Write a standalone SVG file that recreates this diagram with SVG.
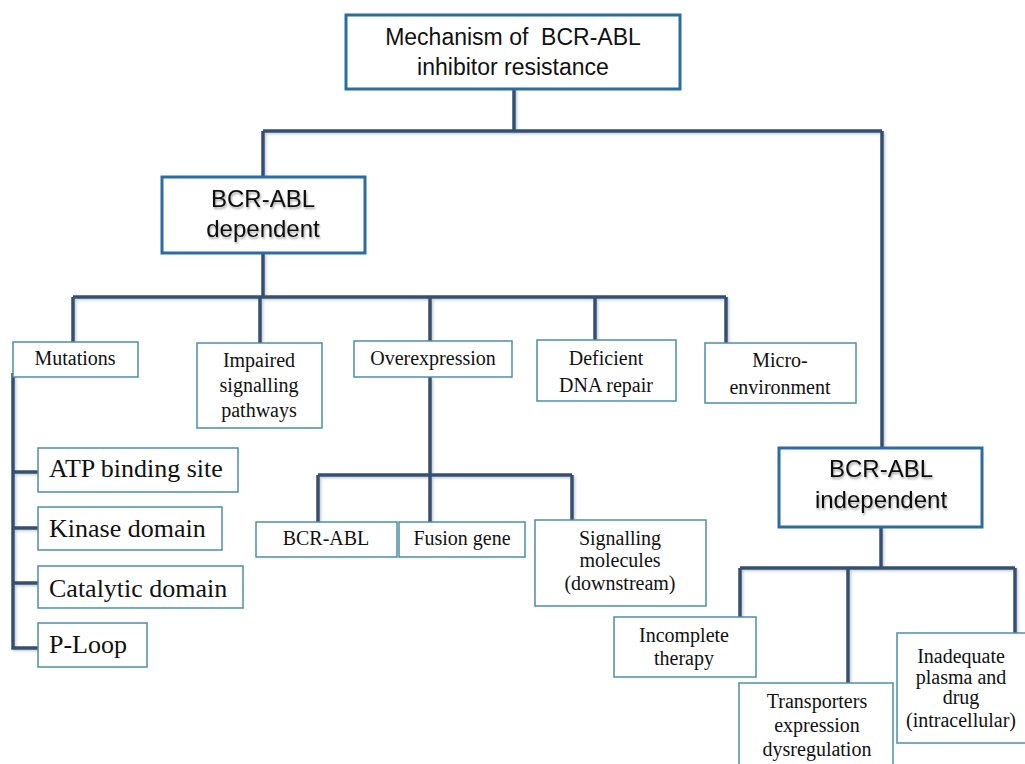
<svg xmlns="http://www.w3.org/2000/svg" width="1025" height="764" viewBox="0 0 1025 764">
<defs>
<filter id="lineShadow" x="-5%" y="-5%" width="110%" height="110%">
<feDropShadow dx="1.5" dy="1.5" stdDeviation="1" flood-color="#8899aa" flood-opacity="0.5"/>
</filter>
<filter id="textShadow" x="-10%" y="-20%" width="120%" height="150%">
<feDropShadow dx="1" dy="2" stdDeviation="1.2" flood-color="#000" flood-opacity="0.35"/>
</filter>
</defs>
<style>
.bg{fill:#ffffff}
.main{fill:#ffffff;stroke:#2b6ca3;stroke-width:3}
.sub{fill:#ffffff;stroke:#4b8fa6;stroke-width:1.5}
.conn{fill:none;stroke:#34506f;stroke-width:3.5;stroke-linejoin:miter}
.sans{font-family:"Liberation Sans","Open Sans",Arial,sans-serif;fill:#111;text-anchor:middle;white-space:pre}
.serif{font-family:"Liberation Serif","Times New Roman",serif;fill:#111;text-anchor:middle;font-size:20px}
.big{font-family:"Liberation Serif","Times New Roman",serif;fill:#111;font-size:26px}
</style>
<rect class="bg" x="0" y="0" width="1025" height="764"/>

<g id="connectors" filter="url(#lineShadow)">
<path class="conn" d="M514 89 V131 M263 131 H882 M263 131 V177 M882 131 V448"/>
<path class="conn" d="M263 253 V297 M73 297 H726 M73 297 V342 M260 297 V343 M430 297 V341 M595 297 V340 M726 297 V343"/>
<path class="conn" d="M430 377 V475 M318 475 H572 M318 475 V522 M430 475 V522 M572 475 V520"/>
<path class="conn" d="M13 373 V648 H38 M13 472 H38 M13 528 H38 M13 583 H38"/>
<path class="conn" d="M881 527 V568 M740 568 H1015 M740 568 V617 M848 568 V683 M1015 568 V633"/>
</g>

<g id="node-root">
<rect class="main" x="346" y="15" width="334" height="74"/>
<text class="sans" font-size="23" x="513" y="45" xml:space="preserve">Mechanism of  BCR-ABL</text>
<text class="sans" font-size="23" x="513" y="75">inhibitor resistance</text>
</g>

<g id="node-dependent">
<rect class="main" x="162" y="177" width="203" height="76"/>
<g filter="url(#textShadow)">
<text class="sans" font-size="24" x="263" y="207">BCR-ABL</text>
<text class="sans" font-size="24" x="263" y="237">dependent</text>
</g>
</g>

<g id="node-independent">
<rect class="main" x="779" y="448" width="203" height="79"/>
<g filter="url(#textShadow)">
<text class="sans" font-size="24" x="881" y="477">BCR-ABL</text>
<text class="sans" font-size="24" x="881" y="508">independent</text>
</g>
</g>

<g id="node-mutations">
<rect class="sub" x="13" y="342" width="125" height="35"/>
<text class="serif" x="75" y="365">Mutations</text>
</g>

<g id="node-impaired">
<rect class="sub" x="197" y="343" width="125" height="85"/>
<text class="serif" x="259" y="367">Impaired</text>
<text class="serif" x="259" y="392">signalling</text>
<text class="serif" x="259" y="417">pathways</text>
</g>

<g id="node-overexpression">
<rect class="sub" x="354" y="341" width="158" height="36"/>
<text class="serif" x="433" y="365">Overexpression</text>
</g>

<g id="node-deficient">
<rect class="sub" x="537" y="340" width="139" height="61"/>
<text class="serif" x="606" y="365">Deficient</text>
<text class="serif" x="606" y="392">DNA repair</text>
</g>

<g id="node-micro">
<rect class="sub" x="705" y="343" width="151" height="60"/>
<text class="serif" x="780" y="367">Micro-</text>
<text class="serif" x="780" y="394">environment</text>
</g>

<g id="node-atp">
<rect class="sub" x="38" y="448" width="200" height="44"/>
<text class="big" x="49" y="477">ATP binding site</text>
</g>

<g id="node-kinase">
<rect class="sub" x="38" y="507" width="184" height="43"/>
<text class="big" x="49" y="537">Kinase domain</text>
</g>

<g id="node-catalytic">
<rect class="sub" x="38" y="566" width="205" height="42"/>
<text class="big" x="49" y="597">Catalytic domain</text>
</g>

<g id="node-ploop">
<rect class="sub" x="38" y="623" width="109" height="44"/>
<text class="big" x="49" y="653">P-Loop</text>
</g>

<g id="node-bcrabl">
<rect class="sub" x="256" y="522" width="141" height="35"/>
<text class="serif" x="326" y="545">BCR-ABL</text>
</g>

<g id="node-fusion">
<rect class="sub" x="399" y="522" width="126" height="35"/>
<text class="serif" x="462" y="545">Fusion gene</text>
</g>

<g id="node-signalling">
<rect class="sub" x="535" y="520" width="171" height="86"/>
<text class="serif" x="620" y="545">Signalling</text>
<text class="serif" x="620" y="567">molecules</text>
<text class="serif" x="620" y="590">(downstream)</text>
</g>

<g id="node-incomplete">
<rect class="sub" x="614" y="617" width="142" height="60"/>
<text class="serif" x="684" y="642">Incomplete</text>
<text class="serif" x="684" y="665">therapy</text>
</g>

<g id="node-transporters">
<rect class="sub" x="739" y="683" width="154" height="95"/>
<text class="serif" x="817" y="708">Transporters</text>
<text class="serif" x="817" y="732">expression</text>
<text class="serif" x="817" y="756">dysregulation</text>
</g>

<g id="node-inadequate">
<rect class="sub" x="897" y="633" width="135" height="110"/>
<text class="serif" x="961" y="663">Inadequate</text>
<text class="serif" x="961" y="684">plasma and</text>
<text class="serif" x="961" y="704">drug</text>
<text class="serif" x="961" y="727">(intracellular)</text>
</g>
</svg>
